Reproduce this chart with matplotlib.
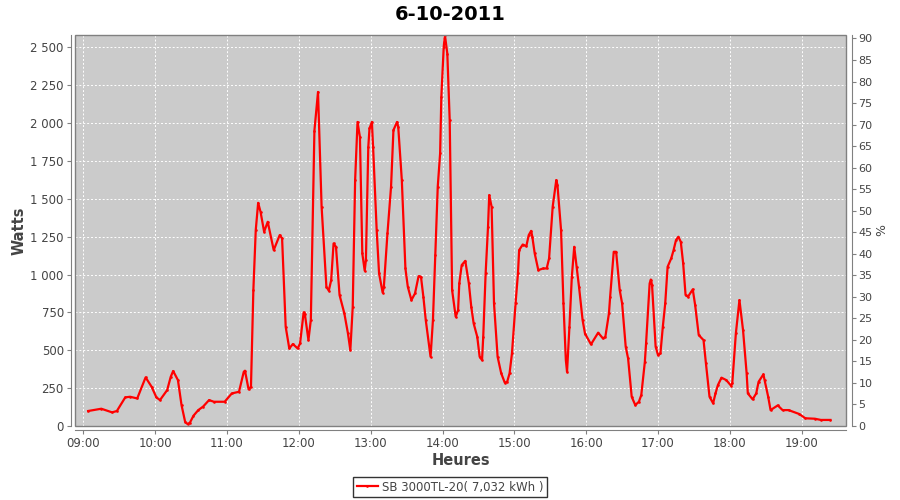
import matplotlib
matplotlib.use("Agg")
import matplotlib.pyplot as plt
import matplotlib.dates as mdates
from matplotlib.ticker import FuncFormatter, MultipleLocator
from matplotlib.patches import Rectangle
import pandas as pd

day = "2011-10-06"
title = "6-10-2011"
series_name = "SB 3000TL-20( 7,032 kWh )"

times = ["09:04","09:15","09:24","09:28","09:35","09:39","09:45","09:52","09:57","10:01",
         "10:04","10:10","10:13","10:15","10:19","10:22","10:25","10:27","10:29","10:32",
         "10:36","10:40","10:45","10:49","10:58","11:04","11:10","11:14","11:15","11:18",
         "11:20","11:22","11:24","11:26","11:28","11:31","11:34","11:39","11:44","11:46",
         "11:49","11:52","11:55","11:59","12:01","12:04","12:05","12:08","12:10","12:13",
         "12:16","12:19","12:23","12:25","12:27","12:29","12:31","12:34","12:38","12:41",
         "12:43","12:45","12:47","12:49","12:51","12:53","12:55","12:56","12:58","12:59",
         "13:01","13:02","13:05","13:07","13:10","13:11","13:14","13:17","13:19","13:22",
         "13:23","13:26","13:29","13:31","13:34","13:37","13:40","13:42","13:44","13:46",
         "13:50","13:52","13:54","13:56","13:58","13:59","14:01","14:02","14:04","14:06",
         "14:08","14:11","14:13","14:14","14:16","14:19","14:22","14:24","14:26","14:29",
         "14:31","14:33","14:34","14:36","14:38","14:39","14:41","14:43","14:46","14:49",
         "14:52","14:54","14:56","14:58","15:01","15:03","15:04","15:07","15:10","15:12",
         "15:14","15:15","15:17","15:20","15:24","15:27","15:29","15:32","15:35","15:36",
         "15:39","15:41","15:43","15:44","15:46","15:48","15:50","15:52","15:54","15:57",
         "15:59","16:04","16:10","16:14","16:16","16:19","16:20","16:23","16:25","16:28",
         "16:30","16:33","16:35","16:38","16:41","16:44","16:46","16:49","16:50","16:53",
         "16:54","16:55","16:58","17:00","17:02","17:04","17:06","17:08","17:11","17:13",
         "17:15","17:17","17:19","17:21","17:23","17:25","17:29","17:31","17:34","17:38",
         "17:40","17:43","17:46","17:48","17:50","17:53","17:57","18:01","18:02","18:05",
         "18:08","18:11","18:14","18:15","18:19","18:22","18:24","18:28","18:29","18:32",
         "18:34","18:40","18:44","18:49","18:58","19:03","19:11","19:16","19:24"]

watts = [99, 114, 90, 99, 189, 193, 182, 321, 259, 189,
         171, 237, 325, 363, 303, 138, 28, 13, 22, 68,
         105, 128, 171, 160, 160, 215, 226, 358, 365, 242,
         259, 897, 1293, 1473, 1414, 1282, 1348, 1161, 1260, 1238,
         655, 512, 541, 512, 545, 750, 740, 567, 700, 1950,
         2205, 1447, 919, 893, 963, 1205, 1183, 864, 743, 611,
         501, 787, 1623, 2007, 1908, 1139, 1025, 1095, 1842, 1964,
         2007, 1842, 1293, 1007, 880, 919, 1271, 1579, 1953, 2007,
         1975, 1623, 1040, 919, 831, 875, 989, 985, 853, 699,
         457, 700, 1130, 1579, 1800, 2172, 2502, 2580, 2458, 2018,
         897, 721, 765, 941, 1062, 1090, 941, 787, 677, 589,
         457, 435, 589, 1007, 1315, 1524, 1447, 809, 457, 348,
         286, 292, 348, 479, 809, 1007, 1161, 1198, 1187, 1260,
         1288, 1249, 1139, 1029, 1040, 1040, 1106, 1447, 1623, 1590,
         1293, 809, 435, 358, 655, 985, 1183, 1051, 919, 699,
         610, 539, 616, 578, 589, 743, 853, 1150, 1150, 897,
         809, 523, 446, 193, 138, 160, 204, 424, 545, 941,
         967, 930, 523, 468, 479, 655, 809, 1051, 1106, 1161,
         1227, 1249, 1216, 1073, 864, 853, 902, 798, 600, 567,
         414, 193, 150, 215, 270, 319, 303, 266, 281, 611,
         831, 633, 348, 215, 176, 215, 292, 341, 303, 193,
         105, 136, 105, 105, 79, 51, 48, 40, 40]

x = pd.to_datetime([day + " " + t for t in times])

fig = plt.figure(figsize=(9, 5), dpi=100)
ax = fig.add_axes([0.0833, 0.148, 0.8567, 0.782])
ax.set_facecolor("#cbcbcb")

ax.plot(x, watts, color="#ff0000", lw=1.6, marker="s", ms=0.8, label=series_name)

ax.set_xlim(pd.Timestamp(day + " 08:53"), pd.Timestamp(day + " 19:37"))
ax.set_ylim(0, 2581)
ax.xaxis.set_major_locator(mdates.HourLocator())
ax.xaxis.set_major_formatter(mdates.DateFormatter("%H:%M"))
ax.yaxis.set_major_locator(MultipleLocator(250))
ax.yaxis.set_major_formatter(FuncFormatter(lambda v, p: f"{int(v):,}".replace(",", " ")))

ax.grid(True, color="white", lw=0.7, ls=(0, (2, 2)))
ax.set_axisbelow(True)

tick_col = "#444444"
for s in ["top", "right"]:
    ax.spines[s].set_visible(False)
for s in ["left", "bottom"]:
    ax.spines[s].set_position(("outward", 3))
    ax.spines[s].set_color("#808080")
ax.tick_params(colors="#808080", labelcolor=tick_col, labelsize=8.5, length=3, width=0.8, pad=2)

# plot outline
ax.add_patch(Rectangle((0, 0), 1, 1, transform=ax.transAxes, fill=False,
                       ec="#808080", lw=1, clip_on=False, zorder=5))

ax2 = ax.twinx()
ax2.set_ylim(0, 90.8)
ax2.yaxis.set_major_locator(MultipleLocator(5))
for s in ["top", "left", "bottom"]:
    ax2.spines[s].set_visible(False)
ax2.spines["right"].set_position(("outward", 4))
ax2.spines["right"].set_color("#808080")
ax2.tick_params(colors="#808080", labelcolor=tick_col, labelsize=8, length=3, width=0.8, pad=2)
ax2.set_ylabel("%", fontsize=9, color=tick_col, labelpad=2)

ax.set_ylabel("Watts", fontsize=10.5, fontweight="bold", color=tick_col, labelpad=3)
ax.set_xlabel("Heures", fontsize=10.5, fontweight="bold", color=tick_col, labelpad=2)

fig.text(0.5, 0.972, title, ha="center", va="center", fontsize=14, fontweight="bold")

leg = fig.legend(loc="center", bbox_to_anchor=(0.5, 0.026), fontsize=8.5,
                 frameon=True, fancybox=False, shadow=False, handlelength=1.8,
                 borderpad=0.3, handletextpad=0.3, borderaxespad=0)
leg.get_frame().set_edgecolor("black")
leg.get_frame().set_linewidth(1)
for t in leg.get_texts():
    t.set_color(tick_col)

fig.savefig("out.png", dpi=100, facecolor="white")
